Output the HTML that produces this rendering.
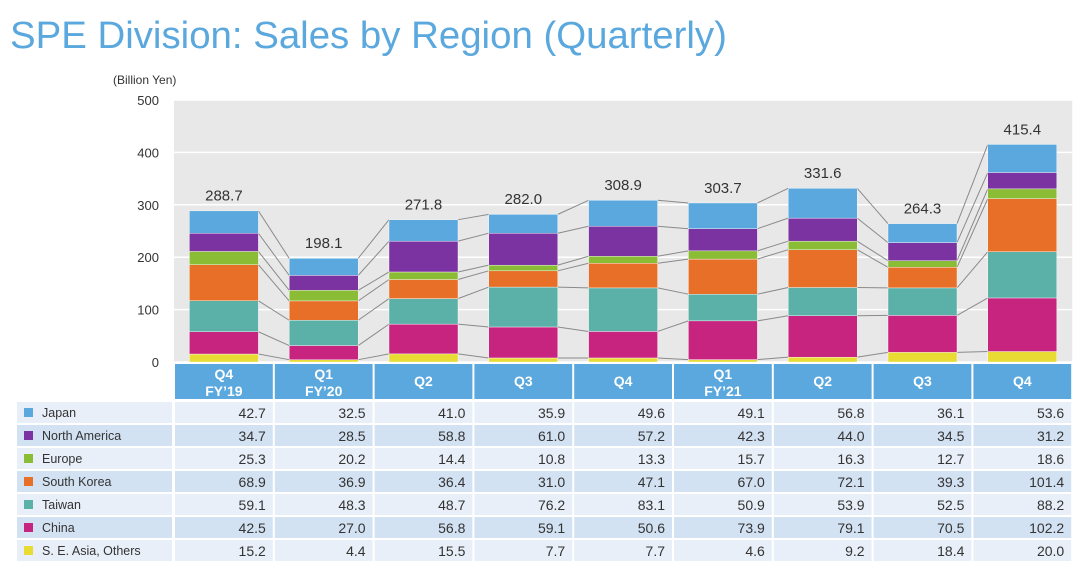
<!DOCTYPE html>
<html><head><meta charset="utf-8">
<style>
body{margin:0;width:1080px;height:573px;background:#fff;overflow:hidden;font-family:"Liberation Sans",Arial,sans-serif;}
svg text{font-family:"Liberation Sans",Arial,sans-serif;}
</style></head><body>
<svg id="c" width="1080" height="573" xmlns="http://www.w3.org/2000/svg">
<text x="10" y="48" font-size="38.4" fill="#5aa8dd">SPE Division: Sales by Region (Quarterly)</text>
<text x="113" y="84" font-size="12" fill="#333">(Billion Yen)</text>
</svg>
<script>
const quarters = ["Q4|FY’19","Q1|FY’20","Q2","Q3","Q4","Q1|FY’21","Q2","Q3","Q4"];
const regions = ["Japan","North America","Europe","South Korea","Taiwan","China","S. E. Asia, Others"];
const colors = ["#5aa8dd","#7a33a0","#8abd35","#e76f28","#5bb1a8","#c6247f","#e8dc34"];
const japan = [42.7,32.5,41.0,35.9,49.6,49.1,56.8,36.1,53.6];
const northAmerica = [34.7,28.5,58.8,61.0,57.2,42.3,44.0,34.5,31.2];
const europe = [25.3,20.2,14.4,10.8,13.3,15.7,16.3,12.7,18.6];
const southKorea = [68.9,36.9,36.4,31.0,47.1,67.0,72.1,39.3,101.4];
const taiwan = [59.1,48.3,48.7,76.2,83.1,50.9,53.9,52.5,88.2];
const china = [42.5,27.0,56.8,59.1,50.6,73.9,79.1,70.5,102.2];
const seAsia = [15.2,4.4,15.5,7.7,7.7,4.6,9.2,18.4,20.0];
const totals = [288.7,198.1,271.8,282.0,308.9,303.7,331.6,264.3,415.4];
const yTicks = [0,100,200,300,400,500];

const series = [japan,northAmerica,europe,southKorea,taiwan,china,seAsia];
const NS="http://www.w3.org/2000/svg", svg=document.getElementById('c');
const X0=174, COLW=99.8, BW=69, Y0=362, PH=262, YMAX=500;
const y = v => Y0 - v/YMAX*PH;
const xc = i => X0 + COLW*i + COLW/2;
function el(t,a,p){const e=document.createElementNS(NS,t);for(const k in a)e.setAttribute(k,a[k]);(p||svg).appendChild(e);return e;}

const bg=el('rect',{x:X0,y:y(500),width:COLW*9,height:PH,fill:'#e8e8e8'});


yTicks.forEach(t=>{
  const l=el('line',{x1:X0,x2:X0+COLW*9,y1:y(t),y2:y(t),stroke:'#fff','stroke-width':1.5});
  
  
  const tx=el('text',{x:159,y:y(t)+5,'font-size':13,fill:'#333','text-anchor':'end'});tx.textContent=t;
  
  
});
const order=[6,5,4,3,2,1,0];
const tops=quarters.map((q,i)=>{let c=0;const r={};order.forEach(s=>{r[s]=[c,c+series[s][i]];c+=series[s][i];});return r;});
for(let i=0;i<8;i++){
  const lv=[0];order.forEach(s=>lv.push(tops[i][s][1]));
  const lv2=[0];order.forEach(s=>lv2.push(tops[i+1][s][1]));
  for(let k=1;k<lv.length;k++){
    const l=el('line',{x1:xc(i)+BW/2,y1:y(lv[k]),x2:xc(i+1)-BW/2,y2:y(lv2[k]),stroke:'#8a8a8a','stroke-width':1});
    
    
  }
}
quarters.forEach((q,i)=>{
  order.forEach(s=>{
    const [a,b]=tops[i][s];
    const r=el('rect',{x:xc(i)-BW/2,y:y(b),width:BW,height:y(a)-y(b),fill:colors[s],stroke:'#fff','stroke-width':0.4});
    
    
  });
  const t=el('text',{x:xc(i),y:y(totals[i])-10,'font-size':15,fill:'#333','text-anchor':'middle'});t.textContent=totals[i].toFixed(1);
  
  
  const h=el('rect',{x:X0+COLW*i+1,y:364,width:COLW-2,height:35,fill:'#5aa8dd'});
  
  
  const parts=q.split('|');
  parts.forEach((p,j)=>{
    const ty=parts.length===1?386:379+j*17;
    const tt=el('text',{x:xc(i),y:ty,'font-size':14,'font-weight':'bold',fill:'#fff','text-anchor':'middle'});tt.textContent=p;
    
    
  });
});
regions.forEach((r,k)=>{
  const ry=402+k*23, fill=k%2?'#d3e2f2':'#e8eff8';
  const lb=el('rect',{x:17,y:ry,width:155,height:21,fill});
  
  
  const sw=el('rect',{x:24,y:ry+6,width:9,height:9,fill:colors[k]});
  
  
  const lt=el('text',{x:42,y:ry+15,'font-size':12.5,fill:'#333'});lt.textContent=r;
  
  
  quarters.forEach((q,i)=>{
    const cr=el('rect',{x:X0+COLW*i+1,y:ry,width:COLW-2,height:21,fill});
    
    
    const ct=el('text',{x:X0+COLW*(i+1)-8,y:ry+16,'font-size':14,fill:'#333','text-anchor':'end'});ct.textContent=series[k][i].toFixed(1);
    
    
  });
});
</script>
</body></html>
